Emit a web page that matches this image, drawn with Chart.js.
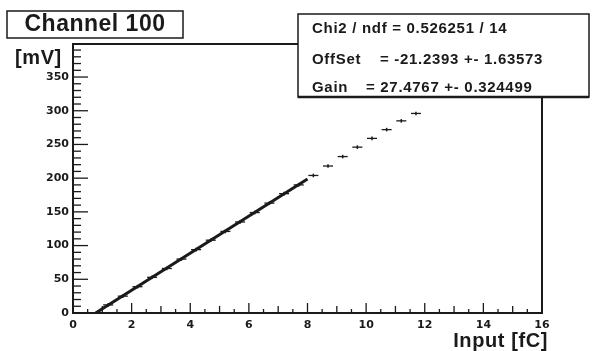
<!DOCTYPE html>
<html lang="en">
<head>
  <meta charset="UTF-8" />
  <title>Channel 100</title>
  <script src="https://cdn.jsdelivr.net/npm/chart.js"></script>
  <style>
    body {
      margin: 0;
      background: #fff;
    }

    .chart-wrapper {
      width: 592px;
      height: 351px;
    }
  </style>
</head>
<body>
  <div class="chart-wrapper">
    <canvas id="gainChart"></canvas>
  </div>

  <script>
    // measured points (input charge in fC, output in mV)
    const inputFc = [0.7, 1.2, 1.7, 2.2, 2.7, 3.2, 3.7, 4.2, 4.7, 5.2, 5.7, 6.2, 6.7, 7.2, 7.7,
                     8.2, 8.7, 9.2, 9.7, 10.2, 10.7, 11.2, 11.7];
    const outputMv = [-2, 12, 25, 39, 53, 66, 80, 94, 108, 121, 135, 149, 163, 177, 190,
                      204, 218, 232, 246, 259, 272, 285, 296];

    // linear fit drawn over the fit range
    const fitX = [0.773, 8.0];
    const fitY = [0, 198.6];

    const xTickLabels = [0, 2, 4, 6, 8, 10, 12, 14, 16];
    const yTickLabels = [0, 50, 100, 150, 200, 250, 300, 350];

    const statLines = [
      ["Chi2 / ndf = 0.526251 / 14", ""],
      ["OffSet", "= -21.2393 +- 1.63573"],
      ["Gain", "= 27.4767 +- 0.324499"]
    ];

    const ink = "#1a1a1a";
    const boldFont = (size) => `bold ${size}px "Liberation Sans", Arial, sans-serif`;
    const tickFont = { family: '"DejaVu Sans", sans-serif', size: 11, weight: "bold" };

    // ROOT-like frame, inside ticks and text boxes
    const framePlugin = {
      id: 'framePlugin',
      afterDraw: (chart) => {
        const ctx = chart.ctx;
        const area = chart.chartArea;
        const xs = chart.scales.x;
        const ys = chart.scales.y;

        ctx.save();
        ctx.strokeStyle = ink;
        ctx.lineWidth = 2;
        ctx.strokeRect(area.left, area.top, area.right - area.left, area.bottom - area.top);

        // x ticks every 0.5 fC
        ctx.lineWidth = 1.3;
        for (let i = 0; i <= 32; i++) {
          const px = xs.getPixelForValue(i * 0.5);
          const len = i % 4 === 0 ? 10 : (i % 2 === 0 ? 7 : 4);
          ctx.beginPath();
          ctx.moveTo(px, area.bottom);
          ctx.lineTo(px, area.bottom - len);
          ctx.stroke();
        }
        // y ticks every 10 mV
        for (let v = 0; v <= 390; v += 10) {
          const py = ys.getPixelForValue(v);
          const len = v % 50 === 0 ? 15 : 8;
          ctx.beginPath();
          ctx.moveTo(area.left, py);
          ctx.lineTo(area.left + len, py);
          ctx.stroke();
        }

        // title box
        ctx.fillStyle = "#fff";
        ctx.fillRect(7, 11, 176, 27);
        ctx.lineWidth = 1.5;
        ctx.strokeRect(7, 11, 176, 27);
        ctx.fillStyle = ink;
        ctx.font = boldFont(23);
        ctx.letterSpacing = "0.5px";
        ctx.textAlign = "center";
        ctx.textBaseline = "middle";
        ctx.fillText("Channel 100", 95, 25);

        // axis titles
        ctx.font = boldFont(20);
        ctx.letterSpacing = "0.6px";
        ctx.textAlign = "left";
        ctx.fillText("[mV]", 15, 58);
        ctx.textAlign = "right";
        ctx.fillText("Input [fC]", 548, 341);

        // stats box
        ctx.fillStyle = "#fff";
        ctx.fillRect(298, 14, 291, 83);
        ctx.lineWidth = 1.5;
        ctx.strokeRect(298, 14, 291, 83);
        ctx.lineWidth = 2.5;
        ctx.beginPath();
        ctx.moveTo(298, 97);
        ctx.lineTo(589, 97);
        ctx.stroke();

        ctx.fillStyle = ink;
        ctx.font = boldFont(15);
        ctx.letterSpacing = "0.7px";
        ctx.textAlign = "left";
        const rowY = [29, 60, 88];
        const valueX = [0, 380, 366];
        statLines.forEach((row, i) => {
          ctx.fillText(row[0], 312, rowY[i]);
          if (row[1]) ctx.fillText(row[1], valueX[i], rowY[i]);
        });
        ctx.restore();
      }
    };

    const ctx = document.getElementById("gainChart").getContext("2d");
    const points = inputFc.map((x, i) => ({ x: x, y: outputMv[i] }));

    new Chart(ctx, {
      type: "scatter",
      data: {
        datasets: [
          {
            label: "Fit",
            data: fitX.map((x, i) => ({ x: x, y: fitY[i] })),
            showLine: true,
            borderColor: ink,
            borderWidth: 3,
            pointRadius: 0
          },
          {
            label: "Data",
            data: points,
            pointStyle: "line",
            pointRadius: 5,
            borderColor: ink,
            borderWidth: 1.3
          },
          {
            label: "Data error",
            data: points,
            pointStyle: "line",
            rotation: 90,
            pointRadius: 1.8,
            borderColor: ink,
            borderWidth: 1.5
          }
        ]
      },
      options: {
        responsive: true,
        maintainAspectRatio: false,
        animation: false,
        layout: {
          padding: { left: 0, right: 50, top: 44, bottom: 0 }
        },
        plugins: {
          legend: { display: false },
          title: { display: false },
          tooltip: { enabled: false }
        },
        scales: {
          x: {
            type: "linear",
            min: 0,
            max: 16,
            grid: { display: false, drawTicks: false },
            border: { display: false },
            afterFit: (scale) => { scale.height = 38; },
            afterBuildTicks: (scale) => {
              scale.ticks = xTickLabels.map(v => ({ value: v }));
            },
            ticks: {
              padding: 6,
              color: ink,
              maxRotation: 0,
              font: tickFont
            }
          },
          y: {
            type: "linear",
            min: 0,
            max: 399,
            grid: { display: false, drawTicks: false },
            border: { display: false },
            afterFit: (scale) => { scale.width = 73; },
            afterBuildTicks: (scale) => {
              scale.ticks = yTickLabels.map(v => ({ value: v }));
            },
            ticks: {
              padding: 4,
              color: ink,
              font: tickFont
            }
          }
        }
      },
      plugins: [framePlugin]
    });
  </script>
</body>
</html>
